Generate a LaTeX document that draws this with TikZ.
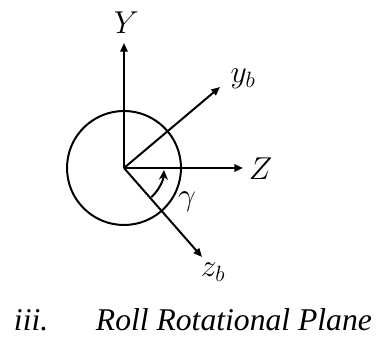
\documentclass[tikz,border=0pt]{standalone}
\usepackage{fix-cm}
\usepackage{fontspec}
\setmainfont{Liberation Serif}
\usetikzlibrary{arrows.meta}

\begin{document}
\begin{tikzpicture}[font=\fontsize{27}{32}\selectfont, line width=1.7pt,
  axis/.style={-{Triangle[length=2.6mm,width=2.2mm]}},
  turn/.style={-{Stealth[length=2.9mm,width=2.7mm]}}]
  \useasboundingbox (-3.72,-5.16) rectangle (7.65,5.04);
  \coordinate (O) at (0,0);
  \coordinate (Ytip) at (0,3.75);
  \coordinate (Ztip) at (3.57,0);
  \coordinate (ybtip) at (2.88,2.43);
  \coordinate (zbtip) at (2.34,-2.67);

  \draw (O) circle (1.71);
  \draw[axis] (O) -- (Ytip);
  \draw[axis] (O) -- (Ztip);
  \draw[axis] (O) -- (ybtip);
  \draw[axis] (O) -- (zbtip);
  \draw[turn] (-47:1.2) arc (-47:-3:1.2);

  \node (Ylab) at (0.07,4.35) {$Y$};
  \node (Zlab) at (4.1,-0.03) {$Z$};
  \node (yblab) at (3.57,2.67) {$y_b$};
  \node (zblab) at (2.67,-3.12) {$z_b$};
  \node (gamma) at (1.89,-1.02) {$\gamma$};

  \node[anchor=base west, inner sep=0] (num) at (-3.33,-4.89) {\textit{iii.}};
  \node[anchor=base west, inner sep=0] (title) at (-0.87,-4.89) {\textit{Roll Rotational Plane}};
\end{tikzpicture}
\end{document}
